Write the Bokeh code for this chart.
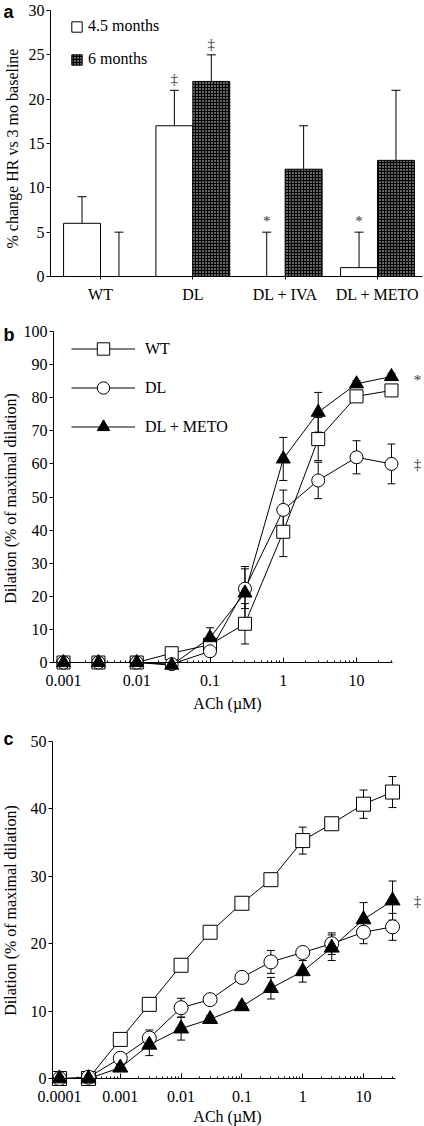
import math
from bokeh.plotting import figure
from bokeh.layouts import column
from bokeh.models import (ColumnDataSource, Range1d, FixedTicker,
                          NumeralTickFormatter, Legend, LegendItem, Label)
from bokeh.transform import dodge
from bokeh.core.properties import value
from bokeh.embed import file_html
from bokeh.resources import INLINE

SERIF = "Liberation Serif"
SANS = "Liberation Sans"
FS = "16px"

# ---------------- data: panel a ----------------
groups = ["WT", "DL", "DL + IVA", "DL + METO"]
hr_45 = [6, 17, 0, 1]
hr_45_err = [3, 4, 5, 4]
hr_6 = [0, 22, 12.1, 13.1]
hr_6_err = [5, 3, 4.9, 7.9]
sig_45 = ["", "‡", "*", "*"]
sig_6 = ["", "‡", "", ""]
a_ticks = [0, 5, 10, 15, 20, 25, 30]

# ---------------- data: panel b ----------------
ach_b = [0.001, 0.003, 0.01, 0.03, 0.1, 0.3, 1, 3, 10, 30]
b_wt = [0, 0, 0, 2.8, 5.4, 11.7, 39.5, 67.5, 80.4, 82.2]
b_wt_err = [0, 0, 0, 0.5, 1, 6.1, 7.5, 6.5, 1, 1]
b_dl = [0, 0, 0, -0.5, 3.4, 22.3, 46.1, 55, 62, 60]
b_dl_err = [0, 0, 0, 0.5, 1, 6, 6, 5.5, 5, 6]
b_meto = [0, 0, 0, -0.8, 7.5, 21, 61.5, 75.6, 84.2, 86.4]
b_meto_err = [0, 0, 0, 0.5, 3, 8, 6.5, 6, 1, 1]
b_yticks = [0, 10, 20, 30, 40, 50, 60, 70, 80, 90, 100]
b_xticks = [0.001, 0.01, 0.1, 1, 10]

# ---------------- data: panel c ----------------
ach_c = [0.0001, 0.0003, 0.001, 0.003, 0.01, 0.03, 0.1, 0.3, 1, 3, 10, 30]
c_wt = [0, 0, 5.8, 11, 16.8, 21.7, 26, 29.5, 35.3, 37.8, 40.7, 42.5]
c_wt_err = [0, 0, 0.5, 0.5, 0.5, 0.5, 0.5, 0.5, 2, 0.5, 2.1, 2.3]
c_dl = [0, 0.2, 3, 6, 10.5, 11.7, 15, 17.3, 18.7, 20, 21.7, 22.5]
c_dl_err = [0, 0, 0.5, 1.2, 1.4, 0.5, 0.5, 1.7, 0.5, 1.6, 1.7, 2]
c_meto = [0, 0, 1.6, 5, 7.4, 8.8, 10.7, 13.4, 15.9, 19.4, 23.6, 26.4]
c_meto_err = [0, 0, 0.5, 1.6, 1.7, 0.5, 0.5, 1.6, 1.6, 1.9, 2.5, 2.9]
c_yticks = [0, 10, 20, 30, 40, 50]
c_xticks = [0.0001, 0.001, 0.01, 0.1, 1, 10]

W = 424


def style_common(p):
    p.outline_line_color = None
    p.xgrid.visible = False
    p.ygrid.visible = False
    p.background_fill_color = "white"
    p.border_fill_color = "white"
    for ax in p.axis:
        ax.axis_line_color = "black"
        ax.major_tick_line_color = "black"
        ax.minor_tick_line_color = "black"
        ax.major_label_text_font = SERIF
        ax.major_label_text_font_size = FS
        ax.major_label_text_color = "black"


def text_label(p, x, y, text, angle=0.0, font=SERIF, size=FS, style="normal",
               align="center", baseline="middle", color="black"):
    p.add_layout(Label(x=x, y=y, x_units="screen", y_units="screen", text=text,
                       angle=angle, text_font=font, text_font_size=size,
                       text_font_style=style, text_align=align,
                       text_baseline=baseline, text_color=color))


def minor_log(lo_exp, hi_exp, lo_val, hi_val):
    return [k * 10.0 ** e for e in range(lo_exp, hi_exp + 1) for k in range(2, 10)
            if lo_val < k * 10.0 ** e < hi_val]


# ======================= panel a =======================
HA = 318
pa = figure(x_range=Range1d(-0.0831, 4.509), y_range=Range1d(-4.737, 31.128),
            width=W, height=HA, min_border_left=0, min_border_right=0,
            min_border_top=0, min_border_bottom=0,
            output_backend="svg", toolbar_location=None)
style_common(pa)

pos = list(range(1, len(groups) + 1))
src_a = ColumnDataSource(dict(
    pos=pos, v45=hr_45, v6=hr_6,
    up45=[v + e for v, e in zip(hr_45, hr_45_err)],
    up6=[v + e for v, e in zip(hr_6, hr_6_err)],
    s45=sig_45, s6=sig_6,
))
x45 = dodge("pos", -0.2, range=pa.x_range)
x6 = dodge("pos", 0.2, range=pa.x_range)

bar45 = pa.vbar(x=x45, top="v45", width=0.4, source=src_a,
                fill_color="white", line_color="black", line_width=1)
bar6 = pa.vbar(x=x6, top="v6", width=0.4, source=src_a,
               fill_color="black", line_color="black", line_width=1,
               hatch_pattern="dot", hatch_color="white", hatch_scale=3, hatch_weight=1)
for xx, lo, hi in ((x45, "v45", "up45"), (x6, "v6", "up6")):
    pa.segment(x0=xx, y0=lo, x1=xx, y1=hi, source=src_a, line_color="black", line_width=1)
    pa.scatter(x=xx, y=hi, source=src_a, marker="dash", size=9, line_color="black", line_width=1)
for xx, yy, tt in ((x45, "up45", "s45"), (x6, "up6", "s6")):
    pa.text(x=xx, y=yy, text=tt, source=src_a, text_font=value(SERIF),
            text_font_size="15px", text_align="center", text_baseline="bottom",
            y_offset=-3, text_color="#333333")

pa.yaxis.fixed_location = 0.4585
pa.yaxis.bounds = (0, 30)
pa.yaxis.ticker = FixedTicker(ticks=a_ticks)
pa.yaxis.major_tick_out = 4
pa.yaxis.major_tick_in = 0
pa.yaxis.minor_tick_out = 0
pa.yaxis.minor_tick_in = 0
pa.yaxis.major_label_standoff = 2
pa.xaxis.fixed_location = 0
pa.xaxis.bounds = (0.4585, 4.4875)
pa.xaxis.ticker = FixedTicker(ticks=pos)
pa.xaxis.major_label_overrides = {i: g for i, g in zip(pos, groups)}
pa.xaxis.major_tick_out = 3
pa.xaxis.major_tick_in = 0
pa.xaxis.minor_tick_out = 0
pa.xaxis.minor_tick_in = 0
pa.xaxis.major_label_standoff = 7

leg_a = Legend(items=[LegendItem(label="4.5 months", renderers=[bar45]),
                      LegendItem(label="6 months", renderers=[bar6])],
               location=(70, 250), orientation="vertical",
               glyph_width=13, glyph_height=13, label_height=18, spacing=15,
               label_standoff=5, padding=0, margin=0,
               border_line_color=None, background_fill_alpha=0,
               label_text_font=SERIF, label_text_font_size=FS, label_text_color="black")
pa.add_layout(leg_a)
text_label(pa, 3, 317, "a", font=SANS, size="18px", style="bold",
           align="left", baseline="top")
text_label(pa, 12, 170, "% change HR vs 3 mo baseline", angle=math.pi / 2)


# ======================= curve panels =======================
def curve_panel(xs, series, yticks, xticks, H, y_lo, y_hi, lx_lo, lx_hi, lx_axis,
                lx_axis_hi, msize):
    p = figure(x_axis_type="log", x_range=Range1d(10 ** lx_lo, 10 ** lx_hi),
               y_range=Range1d(y_lo, y_hi), width=W, height=H,
               min_border_left=0, min_border_right=0, min_border_top=0, min_border_bottom=0,
               output_backend="svg", toolbar_location=None)
    style_common(p)
    data = dict(x=xs)
    for key, vals, errs, marker, fill in series:
        data[key] = vals
        data[key + "_lo"] = [v - e for v, e in zip(vals, errs)]
        data[key + "_hi"] = [v + e for v, e in zip(vals, errs)]
    src = ColumnDataSource(data)
    for key, vals, errs, marker, fill in series:
        p.segment(x0="x", y0=key + "_lo", x1="x", y1=key + "_hi", source=src,
                  line_color="black", line_width=1)
        for end in ("_lo", "_hi"):
            p.scatter(x="x", y=key + end, source=src, marker="dash", size=8,
                      line_color="black", line_width=1)
    lines = {}
    for key, vals, errs, marker, fill in series:
        lines[key] = p.line(x="x", y=key, source=src, line_color="black", line_width=1)
    marks = {}
    for key, vals, errs, marker, fill in series:
        size = msize + (1 if marker == "triangle" else 0)
        marks[key] = p.scatter(x="x", y=key, source=src, marker=marker, size=size,
                               fill_color=fill, line_color="black", line_width=1)
    p.yaxis.fixed_location = 10 ** lx_axis
    p.yaxis.ticker = FixedTicker(ticks=yticks)
    p.yaxis.bounds = (yticks[0], yticks[-1])
    p.yaxis.major_tick_out = 4
    p.yaxis.major_tick_in = 0
    p.yaxis.minor_tick_out = 0
    p.yaxis.minor_tick_in = 0
    p.yaxis.major_label_standoff = 2
    lo_e = int(round(math.log10(xticks[0]))) - 1
    hi_e = int(round(math.log10(xticks[-1])))
    p.xaxis.ticker = FixedTicker(
        ticks=xticks,
        minor_ticks=minor_log(lo_e, hi_e, 10 ** lx_axis, 10 ** lx_axis_hi))
    p.xaxis.formatter = NumeralTickFormatter(format="0.[0000]")
    p.xaxis.fixed_location = 0
    p.xaxis.bounds = (10 ** lx_axis, 10 ** lx_axis_hi)
    p.xaxis.major_tick_in = 5
    p.xaxis.major_tick_out = 0
    p.xaxis.minor_tick_in = 2
    p.xaxis.minor_tick_out = 0
    p.xaxis.major_label_standoff = 12
    return p, marks, lines


HB = 398
pb, mb, lb = curve_panel(
    ach_b,
    [("wt", b_wt, b_wt_err, "square", "white"),
     ("dl", b_dl, b_dl_err, "circle", "white"),
     ("meto", b_meto, b_meto_err, "triangle", "black")],
    b_yticks, b_xticks, HB, -16.31, 103.93, -3.860, 1.928, -3.1365, 1.4915, 13)

leg_b = Legend(items=[LegendItem(label="WT", renderers=[lb["wt"], mb["wt"]]),
                      LegendItem(label="DL", renderers=[lb["dl"], mb["dl"]]),
                      LegendItem(label="DL + METO", renderers=[lb["meto"], mb["meto"]])],
               location=(71, 274), orientation="vertical",
               glyph_width=64, glyph_height=31, label_height=31, spacing=8,
               label_standoff=10, padding=0, margin=0,
               border_line_color=None, background_fill_alpha=0,
               label_text_font=SERIF, label_text_font_size=FS, label_text_color="black")
pb.add_layout(leg_b)
pb.add_layout(Label(x=ach_b[-1] * 2.27, y=b_meto[-1] - 1, text="*", text_font=SERIF,
                    text_font_size="15px", text_align="center", text_baseline="middle",
                    text_color="#333333"))
pb.add_layout(Label(x=ach_b[-1] * 2.27, y=b_dl[-1], text="‡", text_font=SERIF,
                    text_font_size="15px", text_align="center", text_baseline="middle",
                    text_color="#333333"))
text_label(pb, 3, 392, "b", font=SANS, size="18px", style="bold",
           align="left", baseline="top")
text_label(pb, 10, 218, "Dilation (% of maximal dilation)", angle=math.pi / 2)
text_label(pb, 227, 13, "ACh (µM)")

HC = 410
pc, mc, lc = curve_panel(
    ach_c,
    [("wt", c_wt, c_wt_err, "square", "white"),
     ("dl", c_dl, c_dl_err, "circle", "white"),
     ("meto", c_meto, c_meto_err, "triangle", "black")],
    c_yticks, c_xticks, HC, -7.12, 53.71, -4.970, 2.003, -4.115, 1.526, 14)
pc.add_layout(Label(x=ach_c[-1] * 2.58, y=c_meto[-1], text="‡", text_font=SERIF,
                    text_font_size="15px", text_align="center", text_baseline="middle",
                    text_color="#333333"))
text_label(pc, 3, 398, "c", font=SANS, size="18px", style="bold",
           align="left", baseline="top")
text_label(pc, 10, 216, "Dilation (% of maximal dilation)", angle=math.pi / 2)
text_label(pc, 227, 10, "ACh (µM)")

layout = column(pa, pb, pc, spacing=0)
open("out.html", "w").write(file_html(layout, INLINE))
